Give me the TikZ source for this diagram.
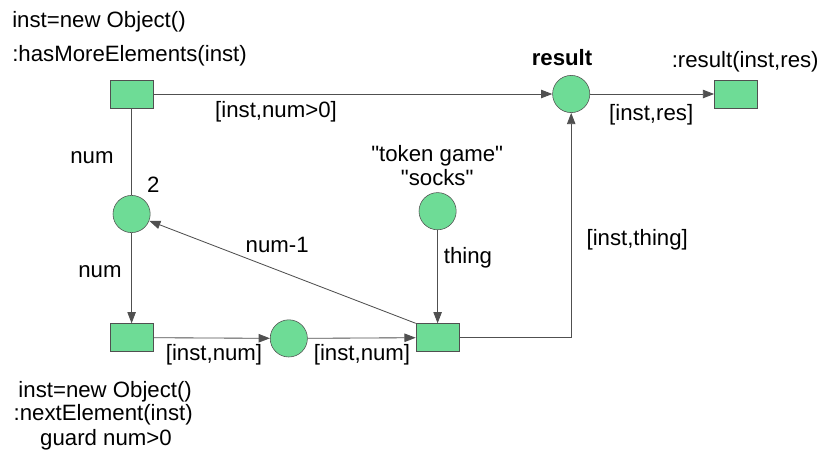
\documentclass[tikz,border=0pt]{standalone}
\usepackage{fontspec}
\setmainfont{Liberation Sans}
\usepackage{tikz}
\usetikzlibrary{arrows.meta, positioning}

\definecolor{netgreen}{RGB}{110,220,150}
\definecolor{netline}{RGB}{80,80,80}

\begin{document}
\begin{tikzpicture}[auto, >={Triangle[length=8pt,width=6pt]}, font=\fontsize{15.8}{18}\selectfont]
		\tikzstyle{place} = [draw=netline, fill=netgreen, circle, minimum size=0.93cm, inner sep=0pt]
		\tikzstyle{trans} = [draw=netline, fill=netgreen, rectangle, minimum width=1.08cm, minimum height=0.7cm, inner sep=0pt]
		\tikzstyle{lbl} = [inner sep=0pt]
		\tikzstyle{arc} = [draw=netline, line width=0.6pt]
		\tikzstyle{arrow} = [arc, ->]

		\useasboundingbox (0, 0) rectangle (20.475, -11.6);

		\node[trans]	at (3.29, -2.35)	(hasmore)	{};
		\node[place]	at (14.28, -2.35)	(result)	{};
		\node[trans]	at (18.4, -2.35)	(output)	{};

		\node[place]	at (3.29, -5.35)	(counter)	{};
		\node[place]	at (10.94, -5.28)	(things)	{};

		\node[trans]	at (3.29, -8.44)	(next)		{};
		\node[place]	at (7.22, -8.46)	(buffer)	{};
		\node[trans]	at (10.94, -8.44)	(take)		{};

		% inscriptions
		\node[lbl, anchor=west]	at (0.3, -0.55)		(hasmoreA)	{inst=new Object()};
		\node[lbl, anchor=west]	at (0.3, -1.4)		(hasmoreB)	{:hasMoreElements(inst)};
		\node[lbl]	at (14.05, -1.43)	(resultname)	{\bfseries result};
		\node[lbl]	at (18.63, -1.55)	(outputname)	{:result(inst,res)};
		\node[lbl]	at (2.63, -9.8)		(nextA)		{inst=new Object()};
		\node[lbl]	at (2.58, -10.38)	(nextB)		{:nextElement(inst)};
		\node[lbl]	at (2.65, -11.0)	(nextC)		{guard num>0};
		\node[lbl]	at (3.83, -4.62)	(countermark)	{2};
		\node[lbl]	at (10.93, -3.9)	(thingsA)	{\textquotedbl token game\textquotedbl};
		\node[lbl]	at (10.93, -4.45)	(thingsB)	{\textquotedbl socks\textquotedbl};

		% arc labels
		\node[lbl]	at (6.9, -2.8)		(l1)	{[inst,num>0]};
		\node[lbl]	at (16.28, -2.87)	(l2)	{[inst,res]};
		\node[lbl]	at (2.3, -3.93)		(l3)	{num};
		\node[lbl]	at (2.5, -6.8)		(l4)	{num};
		\node[lbl]	at (6.93, -6.12)	(l5)	{num-1};
		\node[lbl]	at (5.35, -8.87)	(l6)	{[inst,num]};
		\node[lbl]	at (9.05, -8.87)	(l7)	{[inst,num]};
		\node[lbl]	at (11.7, -6.45)	(l8)	{thing};
		\node[lbl]	at (15.93, -6.0)	(l9)	{[inst,thing]};

		\draw [arrow] (hasmore) -- (result);
		\draw [arrow] (result) -- (output);
		\draw [arc] (hasmore) -- (counter);
		\draw [arrow] (counter) -- (next);
		\draw [arrow] (next) -- (buffer);
		\draw [arrow] (buffer) -- (take);
		\draw [arrow] (things) -- (take);
		\draw [arrow] (take.north west) -- (counter);
		\draw [arrow] (take) -| (result);
	\end{tikzpicture}
\end{document}
